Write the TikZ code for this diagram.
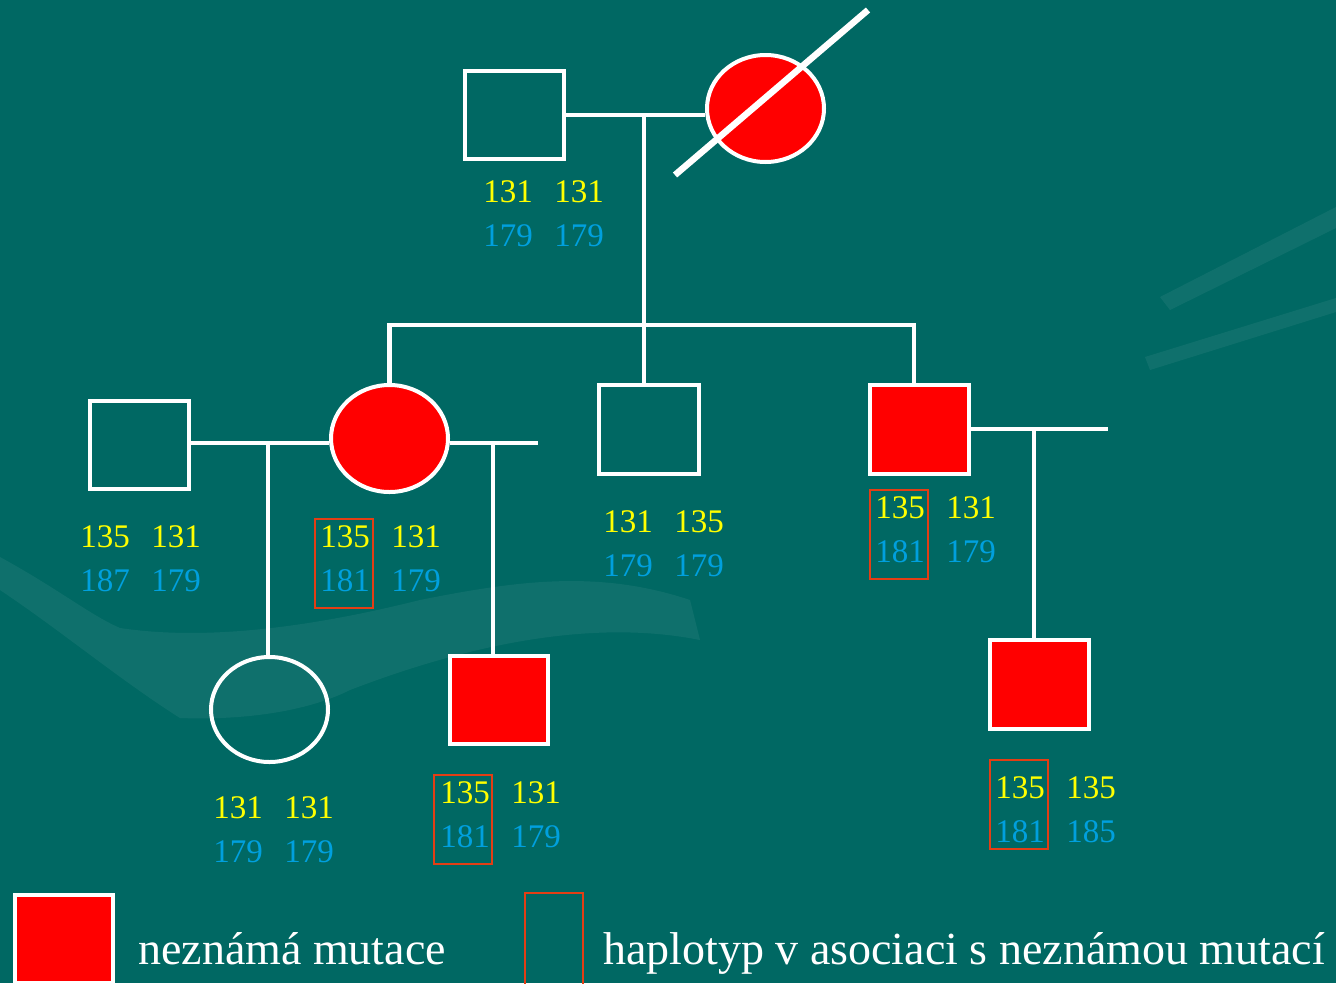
\documentclass[tikz,border=0pt]{standalone}
\usepackage{fontspec}
\setmainfont{Liberation Serif}
\usetikzlibrary{positioning, shapes.geometric}

\definecolor{bgteal}{RGB}{0,104,99}
\definecolor{allelea}{RGB}{255,255,0}
\definecolor{alleleb}{RGB}{0,160,222}
\definecolor{hapred}{RGB}{228,62,20}
\definecolor{affred}{RGB}{255,0,0}

\tikzset{
  male/.style={draw=white, line width=4pt, minimum width=99pt, minimum height=88pt, inner sep=0pt},
  female/.style={ellipse, draw=white, line width=4pt, minimum width=117pt, minimum height=107pt, inner sep=0pt},
  affected/.style={fill=affred},
  line/.style={draw=white, line width=4.5pt},
  ya/.style={text=allelea, inner sep=0pt, font=\fontsize{33}{33}\selectfont},
  yb/.style={text=alleleb, inner sep=0pt, font=\fontsize{33}{33}\selectfont},
  hapbox/.style={draw=hapred, line width=2pt, minimum width=58pt, minimum height=89pt, inner sep=0pt},
  legend/.style={text=white, inner sep=0pt, anchor=base west, font=\fontsize{46}{46}\selectfont},
  swoosh/.style={fill=white, opacity=0.06}
}

% four alleles under a symbol: name, x, y, top left, top right, bottom left, bottom right
\newcommand{\haplo}[7]{%
  \node[ya] (#1-a) at (#2,#3) {#4};
  \node[ya] (#1-b) at ({#2+71},#3) {#5};
  \node[yb] (#1-c) at (#2,{#3+44}) {#6};
  \node[yb] (#1-d) at ({#2+71},{#3+44}) {#7};
}

\begin{document}
\begin{tikzpicture}[x=1pt, y=-1pt]
  \useasboundingbox (0,0) rectangle (1336,983);
  \fill[bgteal] (0,0) rectangle (1336,983);

  % background swooshes
  \fill[swoosh] (0,557) .. controls (60,590) and (90,615) .. (120,628)
    .. controls (200,640) and (300,630) .. (420,600)
    .. controls (520,580) and (600,570) .. (690,600)
    -- (700,640) .. controls (600,620) and (480,640) .. (350,690)
    .. controls (300,715) and (230,720) .. (180,718)
    .. controls (120,680) and (60,630) .. (0,590) -- cycle;
  \fill[swoosh] (1160,297) -- (1336,207) -- (1336,228) -- (1170,310) -- cycle;
  \fill[swoosh] (1145,357) -- (1336,298) -- (1336,312) -- (1150,370) -- cycle;

  % generation I
  \node[male] (gf) at (514.5,115) {};
  \node[female, affected] (gm) at (765.5,108.5) {};
  \coordinate (k1) at (675,175);
  \coordinate (k2) at (868,10);
  \draw[white, line width=6.5pt] (k1) -- (k2);

  % generation II
  \node[male] (hus) at (139,445) {};
  \node[female, affected] (dau) at (389.5,438.5) {};
  \node[male, minimum width=100pt, minimum height=89pt] (son) at (649,429.5) {};
  \node[male, affected, minimum width=99pt, minimum height=89pt] (ason) at (919.5,429.5) {};

  % generation III
  \node[female, minimum height=105pt] (gd) at (269.5,709.5) {};
  \node[male, affected, minimum width=98pt] (gs) at (499,700) {};
  \node[male, affected, minimum height=89pt] (ggs) at (1039.5,684.5) {};

  % connectors
  \coordinate (m1) at (644,115);
  \coordinate (s0) at (644,325);
  \coordinate (sR) at (914,325);
  \coordinate (m2) at (268,443);
  \coordinate (m3) at (493,443);
  \coordinate (p3) at (538,443);
  \coordinate (m4) at (1034,429);
  \coordinate (p4) at (1108,429);
  \begin{scope}[line]
    \draw (gf.east) -- (gf.east -| gm.west);
    \draw (m1) -- (s0);
    \draw (dau.north) |- (sR) -- (sR |- ason.north);
    \draw (s0) -- (s0 |- son.north);
    \draw (m2 -| hus.east) -- (m2 -| dau.west);
    \draw (m2) -- (m2 |- gd.north);
    \draw (m3 -| dau.east) -- (p3);
    \draw (m3) -- (m3 |- gs.north);
    \draw (ason.east |- m4) -- (p4);
    \draw (m4) -- (m4 |- ggs.north);
  \end{scope}

  % alleles
  \haplo{gfh}{508}{192}{131}{131}{179}{179}
  \haplo{hush}{105}{537}{135}{131}{187}{179}
  \haplo{dauh}{345}{537}{135}{131}{181}{179}
  \haplo{sonh}{628}{522}{131}{135}{179}{179}
  \haplo{asonh}{900}{508}{135}{131}{181}{179}
  \haplo{gdh}{238}{808}{131}{131}{179}{179}
  \haplo{gsh}{465}{793}{135}{131}{181}{179}
  \haplo{ggsh}{1020}{788}{135}{135}{181}{185}
  \node[hapbox] (daubox) at (344,563.5) {};
  \node[hapbox] (asonbox) at (899,534.5) {};
  \node[hapbox] (gsbox) at (463,819) {};
  \node[hapbox] (ggsbox) at (1018.5,804) {};

  % legend
  \node[male, affected, minimum width=98pt] (legaff) at (64,939) {};
  \node[legend] (legafftext) at (138,964) {neznámá mutace};
  \node[hapbox, minimum height=92pt] (leghap) at (554,939) {};
  \node[legend] (leghaptext) at (603,964) {haplotyp v asociaci s neznámou mutací};
\end{tikzpicture}
\end{document}
